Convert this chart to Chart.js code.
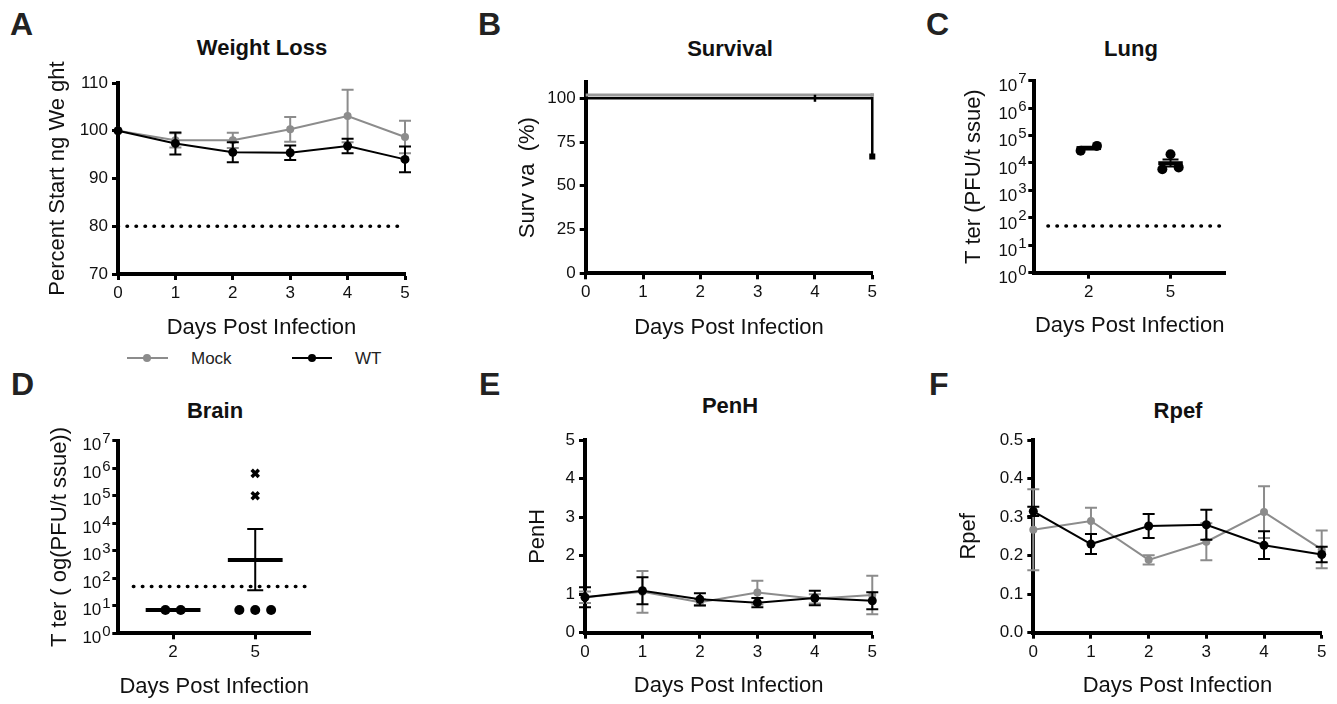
<!DOCTYPE html>
<html><head><meta charset="utf-8">
<script src="https://cdn.jsdelivr.net/npm/chart.js@4.4.1/dist/chart.umd.min.js"></script>
<style>
body{margin:0;background:#fff;width:1337px;height:704px;position:relative;overflow:hidden;font-family:"Liberation Sans",Arial,Helvetica,sans-serif;color:#111;}
canvas{position:absolute;}
.let{position:absolute;font-weight:bold;font-size:32px;line-height:1;color:#222;}
.ttl{position:absolute;font-weight:bold;font-size:22px;line-height:1;transform:translate(-50%,-50%);white-space:nowrap;color:#111;}
.leg{position:absolute;font-size:17px;line-height:1;transform:translateY(-50%);color:#222;}
.lline{position:absolute;height:2px;}
.ldot{position:absolute;width:8px;height:8px;border-radius:50%;}
</style></head><body>
<div class="let" style="left:10px;top:8px">A</div>
<div class="let" style="left:478px;top:8px">B</div>
<div class="let" style="left:926px;top:8px">C</div>
<div class="let" style="left:11px;top:368px">D</div>
<div class="let" style="left:479px;top:368px">E</div>
<div class="let" style="left:929px;top:368px">F</div>

<div class="ttl" style="left:262px;top:48px">Weight Loss</div>
<div class="ttl" style="left:730px;top:49px">Survival</div>
<div class="ttl" style="left:1131px;top:49px">Lung</div>
<div class="ttl" style="left:215px;top:411px">Brain</div>
<div class="ttl" style="left:730px;top:406px">PenH</div>
<div class="ttl" style="left:1178px;top:411px">Rpef</div>

<div class="lline" style="left:127px;top:357px;width:41px;background:#8c8c8c"></div>
<div class="ldot" style="left:143px;top:354px;background:#8c8c8c"></div>
<div class="leg" style="left:191px;top:358px">Mock</div>
<div class="lline" style="left:292px;top:357px;width:40px;background:#000"></div>
<div class="ldot" style="left:308px;top:354px;background:#000"></div>
<div class="leg" style="left:355px;top:358px">WT</div>

<canvas id="cA" width="440" height="350" style="left:0;top:0"></canvas>
<canvas id="cB" width="440" height="350" style="left:440px;top:0"></canvas>
<canvas id="cC" width="457" height="350" style="left:880px;top:0"></canvas>
<canvas id="cD" width="440" height="354" style="left:0;top:350px"></canvas>
<canvas id="cE" width="440" height="354" style="left:440px;top:350px"></canvas>
<canvas id="cF" width="457" height="354" style="left:880px;top:350px"></canvas>

<script>
// ---------- DATA ----------
const days = [0, 1, 2, 3, 4, 5];
const dayLabels = ['0', '1', '2', '3', '4', '5'];

// A: weight loss (% starting weight, mean ± SEM)
const weightTicks = [70, 80, 90, 100, 110];
const weightLabels = ['70', '80', '90', '100', '110'];
const weightMock = [100, 98.0, 98.0, 100.3, 103.1, 98.7];
const weightMockErr = [0, 1.5, 1.6, 2.6, 5.5, 3.4];
const weightWT = [100, 97.35, 95.5, 95.4, 96.8, 94.0];
const weightWTErr = [0, 2.3, 2.1, 1.5, 1.5, 2.7];
const weightLimit = 80;

// B: survival
const survTicks = [0, 25, 50, 75, 100];
const survLabels = ['0', '25', '50', '75', '100'];
const survDaysWT = [0, 4, 5];
const survWT = [100, 100, 66.7];
const survDaysMock = [0, 5];
const survMock = [100, 100];

// C/D: titers (log axis, labels 10^n)
const titerTicks = [1, 10, 100, 1e3, 1e4, 1e5, 1e6, 1e7];
const titerBase = '10';
const titerExponents = ['0', '1', '2', '3', '4', '5', '6', '7'];
const titerDays = [2, 5];
const titerDayLabels = ['2', '5'];
const detectionLimit = 50;

const lungDay2 = [2.8e4, 4.2e4];
const lungDay5 = [5.9e3, 2.07e4, 6.9e3];
const lungMean = [3.5e4, 9.8e3];
const lungErrHi = [3.9e4, 1.35e4];
const lungErrLo = [3.1e4, 7.4e3];

const brainDay2 = [7, 7];
const brainDay5 = [7, 7, 7];
const brainDay5Pos = [1.0e5, 6.5e5];
const brainMean = [7, 460];
const brainErrHi = [null, 6.2e3];
const brainErrLo = [null, 37];

// E: PenH
const penTicks = [0, 1, 2, 3, 4, 5];
const penLabels = ['0', '1', '2', '3', '4', '5'];
const penMock = [0.92, 1.06, 0.79, 1.04, 0.88, 0.98];
const penMockErr = [0.15, 0.54, 0.08, 0.31, 0.12, 0.5];
const penWT = [0.92, 1.09, 0.865, 0.78, 0.9, 0.83];
const penWTErr = [0.26, 0.35, 0.16, 0.12, 0.19, 0.22];

// F: Rpef
const rpefTicks = [0, 0.1, 0.2, 0.3, 0.4, 0.5];
const rpefLabels = ['0.0', '0.1', '0.2', '0.3', '0.4', '0.5'];
const rpefMock = [0.267, 0.29, 0.189, 0.236, 0.313, 0.216];
const rpefMockErr = [0.105, 0.034, 0.012, 0.048, 0.067, 0.049];
const rpefWT = [0.315, 0.23, 0.277, 0.28, 0.227, 0.203];
const rpefWTErr = [0.012, 0.026, 0.031, 0.039, 0.036, 0.02];

// ---------- STYLE / HELPERS ----------
const FONT = "'Liberation Sans', Arial, Helvetica, sans-serif";
Chart.defaults.font.family = FONT;
Chart.defaults.color = '#111';
const BLACK = '#000', GRAY = '#8c8c8c';
const TICK_FONT = 17, TITLE_FONT = 22;

const pts = (xs, ys) => xs.map((x, i) => ({ x: x, y: ys[i] }));
const spread = (center, vals, w) => vals.map((v, i) => ({ x: center + (vals.length === 1 ? 0 : -w + 2 * w * i / (vals.length - 1)), y: v }));

const errorBarPlugin = {
  id: 'errorBars',
  beforeDatasetDraw(chart, args) {
    const ds = chart.data.datasets[args.index];
    if (!ds.errors) return;
    const xs = chart.scales.x, ys = chart.scales.y, ctx = chart.ctx;
    ctx.save();
    ctx.strokeStyle = ds.borderColor;
    ctx.lineWidth = 2;
    ds.data.forEach((p, i) => {
      const e = ds.errors[i];
      if (!e) return;
      const px = xs.getPixelForValue(p.x);
      const t = ys.getPixelForValue(p.y + e), b = ys.getPixelForValue(p.y - e);
      ctx.beginPath();
      ctx.moveTo(px, t); ctx.lineTo(px, b);
      ctx.moveTo(px - 6, t); ctx.lineTo(px + 6, t);
      ctx.moveTo(px - 6, b); ctx.lineTo(px + 6, b);
      ctx.stroke();
    });
    ctx.restore();
  }
};

const shiftPlugin = {
  id: 'shift',
  beforeDatasetDraw(chart, args) {
    const ds = chart.data.datasets[args.index];
    chart.ctx.save();
    if (ds.pixelShift) chart.ctx.translate(0, ds.pixelShift);
  },
  afterDatasetDraw(chart) { chart.ctx.restore(); }
};

const meanPlugin = {
  id: 'meanBars',
  afterDatasetsDraw(chart, args, o) {
    if (!o || !o.x) return;
    const xs = chart.scales.x, ys = chart.scales.y, ctx = chart.ctx;
    ctx.save();
    ctx.strokeStyle = BLACK;
    for (let i = 0; i < o.x.length; i++) {
      const px = xs.getPixelForValue(o.x[i]);
      const hw = xs.getPixelForValue(o.x[i] + o.half) - px;
      const py = ys.getPixelForValue(o.mean[i]);
      if (o.hi[i] != null) {
        const t = ys.getPixelForValue(o.hi[i]), b = ys.getPixelForValue(o.lo[i]);
        ctx.lineWidth = 2;
        ctx.beginPath();
        ctx.moveTo(px, t); ctx.lineTo(px, b);
        ctx.moveTo(px - 8, t); ctx.lineTo(px + 8, t);
        ctx.moveTo(px - 8, b); ctx.lineTo(px + 8, b);
        ctx.stroke();
      }
      ctx.lineWidth = 4;
      ctx.beginPath();
      ctx.moveTo(px - hw, py); ctx.lineTo(px + hw, py);
      ctx.stroke();
    }
    ctx.restore();
  }
};

// draws the exponent of "10^n" tick labels next to the base drawn by the axis
const expPlugin = {
  id: 'expLabels',
  afterDraw(chart, args, o) {
    if (!o || !o.exps) return;
    const ys = chart.scales.y, ctx = chart.ctx;
    ctx.save();
    ctx.font = '15px ' + FONT;
    ctx.fillStyle = '#111';
    ctx.textAlign = 'left';
    ctx.textBaseline = 'middle';
    ys.ticks.forEach((t, i) => {
      const py = ys.getPixelForValue(t.value);
      ctx.fillText(o.exps[i], ys.right - 16, py - 1.5);
    });
    ctx.restore();
  }
};

function mkAxis(o) {
  const horiz = o.horiz;
  return {
    type: o.type || 'linear',
    position: horiz ? 'bottom' : 'left',
    min: o.min, max: o.max,
    afterBuildTicks: s => { s.ticks = o.ticks.map(v => ({ value: v })); },
    afterFit: s => { if (horiz) s.height = o.size; else s.width = o.size; },
    ticks: {
      autoSkip: false, maxRotation: 0, minRotation: 0,
      padding: o.tickPad != null ? o.tickPad : (horiz ? 3 : 4),
      labelOffset: o.labelOffset || 0,
      font: { size: TICK_FONT }, color: '#111',
      callback: (v, i) => o.labels[i]
    },
    grid: { display: true, drawOnChartArea: false, drawTicks: true, tickLength: 6, tickWidth: 3, tickColor: BLACK },
    border: { display: true, width: 4, color: BLACK },
    title: {
      display: true, text: o.title, color: '#111', font: { size: TITLE_FONT },
      padding: horiz ? { top: 0, bottom: o.tpad } : { top: o.tpad, bottom: 0 }
    }
  };
}

function seriesLine(label, data, color, errors, r) {
  return {
    label, data, errors, borderColor: color, backgroundColor: color,
    borderWidth: 2, pointRadius: r, pointBorderWidth: 0, pointHoverRadius: r,
    tension: 0, clip: false, fill: false
  };
}
function dotted(x0, x1, y) {
  return {
    data: [{ x: x0, y: y }, { x: x1, y: y }], borderColor: BLACK, borderWidth: 3.5,
    borderDash: [0.5, 8.5], borderCapStyle: 'round', pointRadius: 0, clip: false, fill: false
  };
}

function makeChart(id, datasets, xAxis, yAxis, pad, pluginOpts) {
  return new Chart(document.getElementById(id), {
    type: 'line',
    data: { datasets },
    options: {
      responsive: false, animation: false, events: [],
      layout: { padding: pad },
      plugins: Object.assign({ legend: { display: false }, tooltip: { enabled: false } }, pluginOpts || {}),
      scales: { x: xAxis, y: yAxis }
    },
    plugins: [shiftPlugin, errorBarPlugin, meanPlugin, expPlugin]
  });
}

const titerLabels = titerTicks.map(() => titerBase);

// ---------- A: Weight Loss ----------
makeChart('cA', [
  seriesLine('WT', pts(days, weightWT), BLACK, weightWTErr, 4.5),
  seriesLine('Mock', pts(days, weightMock), GRAY, weightMockErr, 4),
  dotted(0, 5, weightLimit)
],
  mkAxis({ horiz: true, min: 0, max: 5, ticks: days, labels: dayLabels, size: 76, title: 'Days Post Infection', tpad: 8.5 }),
  mkAxis({ min: 70, max: 110, ticks: weightTicks, labels: weightLabels, size: 118, title: 'Percent Start ng We ght', tpad: 44.5 }),
  { left: 0, top: 83, right: 35, bottom: 0 });

// ---------- B: Survival ----------
makeChart('cB', [
  Object.assign(seriesLine('WT', pts(survDaysWT, survWT), BLACK, null, 0), {
    stepped: 'before', borderWidth: 2.5,
    pointRadius: [0, 3.5, 2.5], pointStyle: ['circle', 'line', 'rect'], pointRotation: [0, 90, 0], pointBorderWidth: 2.5
  }),
  Object.assign(seriesLine('Mock', pts(survDaysMock, survMock), '#9a9a9a', null, 0), {
    borderWidth: 3, pixelShift: -3.3, pointRadius: [0, 2.5], pointStyle: 'rect'
  })
],
  mkAxis({ horiz: true, min: 0, max: 5, ticks: days, labels: dayLabels, size: 76.7, title: 'Days Post Infection', tpad: 8.5 }),
  mkAxis({ min: 0, max: 109.3, ticks: survTicks, labels: survLabels, size: 145.7, title: 'Surv va  (%)', tpad: 74.5 }),
  { left: 0, top: 82, right: 6.7, bottom: 0 });

// ---------- C: Lung ----------
makeChart('cC', [
  Object.assign(seriesLine('d2', spread(2, lungDay2, 0.3), BLACK, null, 5), { showLine: false }),
  Object.assign(seriesLine('d5', spread(5, lungDay5, 0.3), BLACK, null, 5), { showLine: false }),
  dotted(0.5, 7, detectionLimit)
],
  mkAxis({ horiz: true, min: 0, max: 7, ticks: titerDays, labels: titerDayLabels, size: 77.3, title: 'Days Post Infection', tpad: 10.5 }),
  mkAxis({ type: 'logarithmic', min: 1, max: 1e7, ticks: titerTicks, labels: titerLabels, size: 154.3, title: 'T ter (PFU/t ssue)', tpad: 80.5, tickPad: 11, labelOffset: 6 }),
  { left: 0, top: 80.7, right: 112, bottom: 0 },
  { meanBars: { x: titerDays, mean: lungMean, hi: lungErrHi, lo: lungErrLo, half: 0.45 }, expLabels: { exps: titerExponents } });

// ---------- D: Brain ----------
makeChart('cD', [
  Object.assign(seriesLine('d2', spread(2, brainDay2, 0.28), BLACK, null, 5), { showLine: false }),
  Object.assign(seriesLine('d5', spread(5, brainDay5, 0.58), BLACK, null, 5), { showLine: false }),
  Object.assign(seriesLine('d5pos', pts([5, 5], brainDay5Pos), BLACK, null, 5), { showLine: false, pointStyle: 'crossRot', pointBorderWidth: 3.5 }),
  dotted(0.55, 7, detectionLimit)
],
  mkAxis({ horiz: true, min: 0, max: 7, ticks: titerDays, labels: titerDayLabels, size: 70.7, title: 'Days Post Infection', tpad: 3.5 }),
  mkAxis({ type: 'logarithmic', min: 1, max: 1e7, ticks: titerTicks, labels: titerLabels, size: 118.3, title: 'T ter ( og(PFU/t ssue))', tpad: 46.5, tickPad: 11, labelOffset: 5 }),
  { left: 0, top: 90.7, right: 130, bottom: 0 },
  { meanBars: { x: titerDays, mean: brainMean, hi: brainErrHi, lo: brainErrLo, half: 1.0 }, expLabels: { exps: titerExponents } });

// ---------- E: PenH ----------
makeChart('cE', [
  seriesLine('WT', pts(days, penWT), BLACK, penWTErr, 4.5),
  seriesLine('Mock', pts(days, penMock), GRAY, penMockErr, 4)
],
  mkAxis({ horiz: true, min: 0, max: 5, ticks: days, labels: dayLabels, size: 71.3, title: 'Days Post Infection', tpad: 5 }),
  mkAxis({ min: 0, max: 5, ticks: penTicks, labels: penLabels, size: 145, title: 'PenH', tpad: 84.5 }),
  { left: 0, top: 90, right: 7.3, bottom: 0 });

// ---------- F: Rpef ----------
makeChart('cF', [
  seriesLine('WT', pts(days, rpefWT), BLACK, rpefWTErr, 4.5),
  seriesLine('Mock', pts(days, rpefMock), GRAY, rpefMockErr, 4)
],
  mkAxis({ horiz: true, min: 0, max: 5, ticks: days, labels: dayLabels, size: 71.3, title: 'Days Post Infection', tpad: 5 }),
  mkAxis({ min: 0, max: 0.5, ticks: rpefTicks, labels: rpefLabels, size: 153.3, title: 'Rpef', tpad: 75.5 }),
  { left: 0, top: 90, right: 15.3, bottom: 0 });
</script>
</body></html>
